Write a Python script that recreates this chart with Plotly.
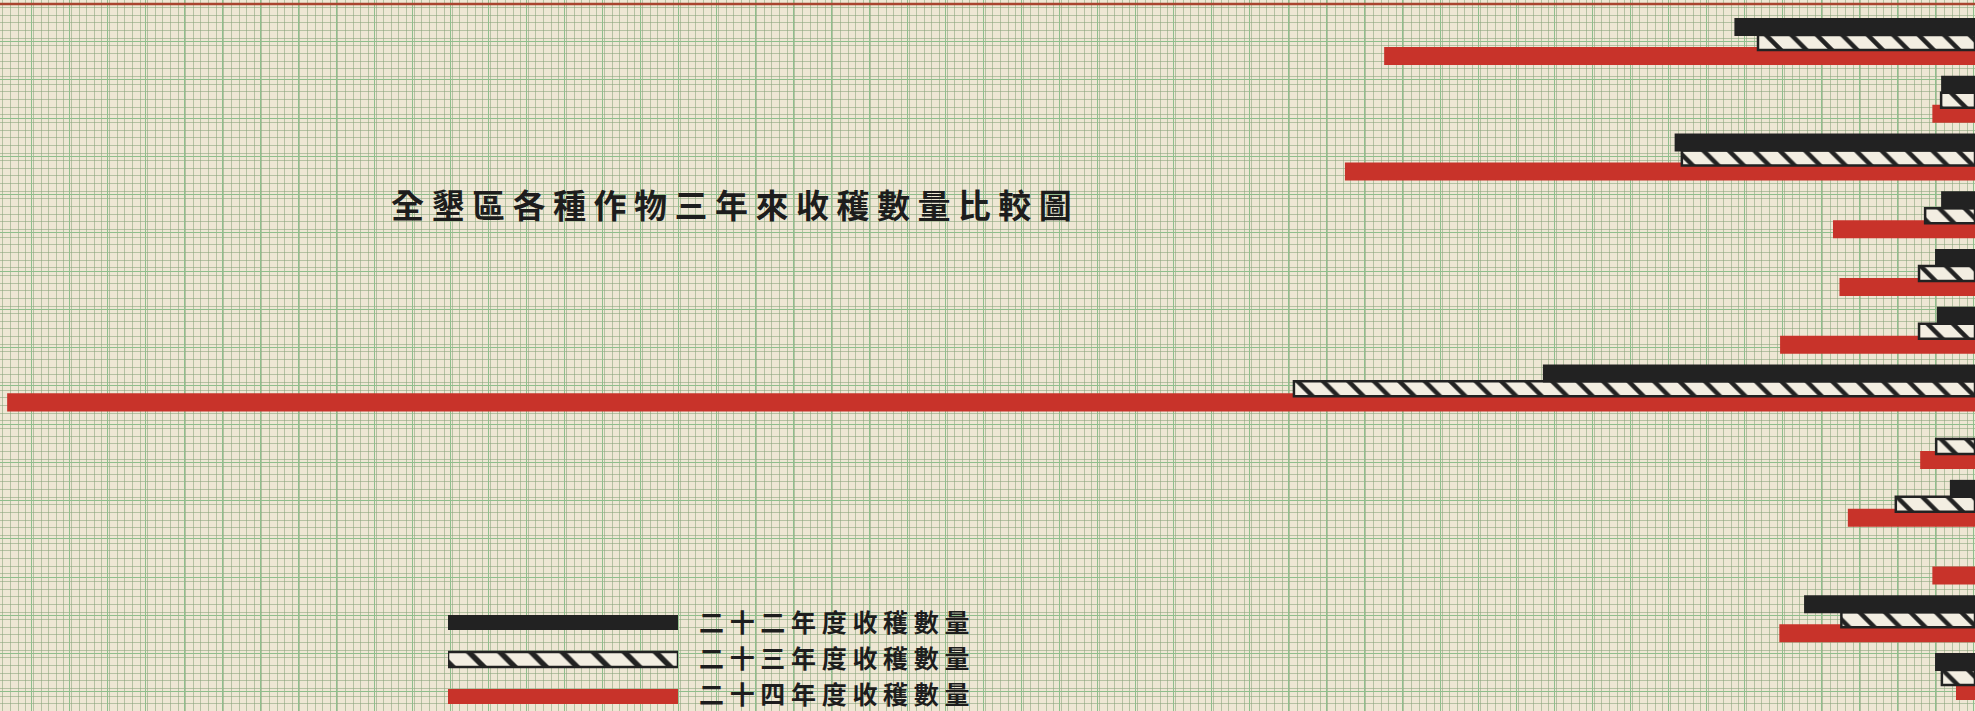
import plotly.graph_objects as go

# 作物名稱在原圖中已被裁去，以序號代替
crops = ['作物一', '作物二', '作物三', '作物四', '作物五', '作物六',
         '作物七', '作物八', '作物九', '作物十', '作物十一', '作物十二']

# 收穫數量（按方格紙公分讀數，自右側基線起算）
harvest_22 = [6.32, 0.89, 7.89, 0.89, 1.05, 1.00, 11.35, None, 0.66, None, 4.49, 1.05]
harvest_23 = [5.70, 0.89, 7.70, 1.31, 1.47, 1.47, 17.89, 1.02, 2.08, None, 3.51, 0.87]
harvest_24 = [15.52, 1.12, 16.55, 3.73, 3.56, 5.12, 51.69, 1.44, 3.34, 1.12, 5.14, 0.50]

legend_labels = ['二十二年度收穫數量', '二十三年度收穫數量', '二十四年度收穫數量']
title_text = '全墾區各種作物三年來收穫數量比較圖'

W, H = 1975, 711
CM = 38.07          # 方格紙一公分的像素
PAPER = '#eee7d4'
MAJOR = '#8fbe8c'
MINOR = 'rgba(135,162,120,0.55)'
BLACK = '#222222'
RED = '#c8332a'
HATCH_BG = '#f3eee2'
FONT = 'Noto Sans CJK TC'

hatch = dict(shape='\\', fgcolor=BLACK, bgcolor=HATCH_BG, size=18, solidity=0.25, fillmode='replace')

fig = go.Figure()

# 二十四年度（紅）
fig.add_trace(go.Bar(y=crops, x=harvest_24, orientation='h', offset=0.095, width=0.312,
                     marker=dict(color=RED, line_width=0), name=legend_labels[2]))
# 二十三年度（斜線）
fig.add_trace(go.Bar(y=crops, x=harvest_23, orientation='h', offset=-0.113, width=0.26,
                     marker=dict(color=HATCH_BG, pattern=hatch, line=dict(color=BLACK, width=2.5)),
                     name=legend_labels[1]))
# 二十二年度（黑）
fig.add_trace(go.Bar(y=crops, x=harvest_22, orientation='h', offset=-0.407, width=0.312,
                     marker=dict(color=BLACK, line_width=0), name=legend_labels[0]))

# 橫向方格線用的輔助軸
fig.add_trace(go.Scatter(x=[None], y=[None], xaxis='x', yaxis='y3', showlegend=False, hoverinfo='skip'))

# 圖例色條
fig.add_trace(go.Bar(y=[legend_labels[0]], x=[1], orientation='h', width=0.405, xaxis='x2', yaxis='y2',
                     marker=dict(color=BLACK, line_width=0), hoverinfo='skip'))
fig.add_trace(go.Bar(y=[legend_labels[1]], x=[1], orientation='h', width=0.405, xaxis='x2', yaxis='y2',
                     marker=dict(color=HATCH_BG, pattern=dict(hatch, size=22), line=dict(color=BLACK, width=2.5)),
                     hoverinfo='skip'))
fig.add_trace(go.Bar(y=[legend_labels[2]], x=[1], orientation='h', width=0.405, xaxis='x2', yaxis='y2',
                     marker=dict(color=RED, line_width=0), hoverinfo='skip'))

for i, lab in enumerate(legend_labels):
    fig.add_annotation(x=697 / W, y=1 - (621 + 36 * i) / H, xref='paper', yref='paper',
                       text=' '.join(lab), showarrow=False, xanchor='left', yanchor='middle',
                       font=dict(family=FONT, size=25, color='#1d1d1d', weight='bold'))

fig.add_annotation(x=731 / W, y=1 - 204 / H, xref='paper', yref='paper',
                   text=' '.join(title_text), showarrow=False, xanchor='center', yanchor='middle',
                   font=dict(family=FONT, size=33, color='#1d1d1d', weight='bold'))

# 頂端紅線
fig.add_shape(type='line', xref='paper', yref='paper', x0=0, x1=1, y0=1 - 4 / H, y1=1 - 4 / H,
              line=dict(color='#a9442f', width=2.5))

grid = dict(showgrid=True, gridcolor=MAJOR, gridwidth=1.3, dtick=1,
            minor=dict(dtick=0.2, showgrid=True, gridcolor=MINOR, gridwidth=1),
            showticklabels=False, ticks='', zeroline=False, showline=False)

fig.update_layout(
    width=W, height=H, margin=dict(l=0, r=0, t=0, b=0),
    paper_bgcolor=PAPER, plot_bgcolor='rgba(0,0,0,0)',
    barmode='overlay', showlegend=False,
    xaxis=dict(grid, range=[W / CM, 0], tick0=0.045, domain=[0, 1]),
    yaxis=dict(type='category', range=[11.597, -0.719], showgrid=False, showticklabels=False,
               ticks='', zeroline=False, showline=False),
    yaxis3=dict(grid, overlaying='y', side='right', range=[H / 38.25, 0], tick0=0.089, dtick=1),
    xaxis2=dict(domain=[448 / W, 678 / W], range=[0, 1], anchor='y2', visible=False),
    yaxis2=dict(domain=[0, 111 / H], anchor='x2', type='category', range=[2.392, -0.608], visible=False),
)

fig.write_html('out.html', config={'displayModeBar': False},
               post_script="document.body.style.margin='0';document.body.style.overflow='hidden';")
